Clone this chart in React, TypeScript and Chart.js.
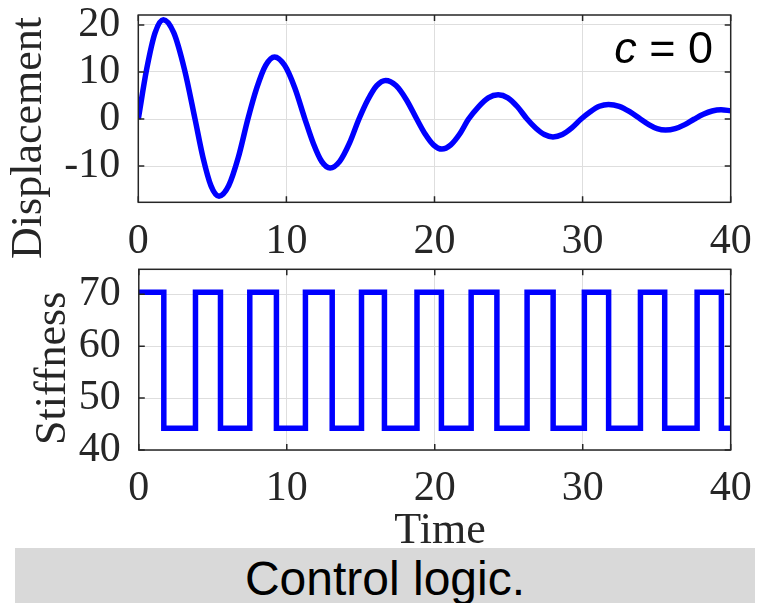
import React, { useEffect, useRef } from "react";
import { Chart, registerables } from "chart.js";
Chart.register(...registerables);

// ---- data ----
const timeTicks = [0, 10, 20, 30, 40];
const dispTicks = [-10, 0, 10, 20];
const stiffTicks = [40, 50, 60, 70];

const dispTime = [
  0, 0.56, 1.13, 1.69,
  2.4, 3.12, 3.83,
  4.37, 4.91, 5.45,
  6.1, 6.75, 7.4,
  8.0, 8.6, 9.2,
  9.88, 10.57, 11.25,
  11.82, 12.38, 12.95,
  13.6, 14.25, 14.9,
  15.5, 16.1, 16.7,
  17.4, 18.1, 18.8,
  19.37, 19.93, 20.5,
  21.1, 21.7, 22.3,
  22.97, 23.63, 24.3,
  24.95, 25.6, 26.25,
  26.83, 27.42, 28.0,
  28.63, 29.27, 29.9,
  30.52, 31.13, 31.75,
  32.47, 33.18, 33.9,
  34.47, 35.03, 35.6,
  36.25, 36.9, 37.55,
  38.15, 38.75, 39.35,
  40.0,
];
const dispValue = [
  0, 10.5, 18.3, 21.1,
  18.3, 10.5, 0,
  -8.2, -14.2, -16.4,
  -14.2, -8.2, 0,
  6.6, 11.4, 13.2,
  11.4, 6.6, 0,
  -5.2, -9.0, -10.4,
  -9.0, -5.2, 0,
  4.1, 7.1, 8.2,
  7.1, 4.1, 0,
  -3.2, -5.5, -6.4,
  -5.5, -3.2, 0,
  2.6, 4.5, 5.15,
  4.5, 2.6, 0,
  -1.9, -3.3, -3.8,
  -3.3, -1.9, 0,
  1.55, 2.7, 3.1,
  2.7, 1.55, 0,
  -1.2, -2.05, -2.35,
  -2.05, -1.2, 0,
  1.0, 1.7, 1.95,
  1.75,
];

// stiffness: start time of each constant segment and its level
const stiffSwitchTime = [
  0, 1.69, 3.83, 5.52, 7.5, 9.3, 11.26, 13.07, 15.05, 16.6, 18.8,
  20.45, 22.46, 24.2, 26.24, 28.0, 30.11, 31.75, 33.9, 35.54, 37.73, 39.37,
];
const stiffLevel = [
  70.4, 44.2, 70.4, 44.2, 70.4, 44.2, 70.4, 44.2, 70.4, 44.2, 70.4,
  44.2, 70.4, 44.2, 70.4, 44.2, 70.4, 44.2, 70.4, 44.2, 70.4, 44.2,
];
const timeEnd = 40;

// ---- style ----
const AXIS_COLOR = "#262626";
const GRID_COLOR = "#dedede";
const LINE_COLOR = "#0000ff";
const SERIF = "'Liberation Serif', 'Times New Roman', serif";
const SANS = "'Liberation Sans', Arial, sans-serif";
const W = 763;

type Txt = {
  text: string;
  x: number;
  y: number;
  rotate?: boolean;
  font: string;
  align?: CanvasTextAlign;
};

function makeFramePlugin(texts: Txt[], extra?: (ctx: CanvasRenderingContext2D) => void) {
  return {
    id: "frameAndText",
    afterDraw(chart: any) {
      const { ctx, chartArea: a, scales } = chart;
      ctx.save();
      ctx.strokeStyle = AXIS_COLOR;
      ctx.lineWidth = 1.5;
      ctx.strokeRect(a.left, a.top, a.right - a.left, a.bottom - a.top);
      const L = 6;
      ctx.beginPath();
      scales.x.ticks.forEach((t: any) => {
        const px = scales.x.getPixelForValue(t.value);
        ctx.moveTo(px, a.bottom);
        ctx.lineTo(px, a.bottom - L);
        ctx.moveTo(px, a.top);
        ctx.lineTo(px, a.top + L);
      });
      scales.y.ticks.forEach((t: any) => {
        const py = scales.y.getPixelForValue(t.value);
        ctx.moveTo(a.left, py);
        ctx.lineTo(a.left + L, py);
        ctx.moveTo(a.right, py);
        ctx.lineTo(a.right - L, py);
      });
      ctx.stroke();
      ctx.fillStyle = AXIS_COLOR;
      texts.forEach((t) => {
        ctx.save();
        ctx.font = t.font;
        ctx.textAlign = t.align || "center";
        ctx.textBaseline = "alphabetic";
        ctx.translate(t.x, t.y);
        if (t.rotate) ctx.rotate(-Math.PI / 2);
        ctx.fillText(t.text, 0, 0);
        ctx.restore();
      });
      if (extra) extra(ctx);
      ctx.restore();
    },
  };
}

function makeConfig(opts: {
  data: { x: number; y: number }[];
  yMin: number;
  yMax: number;
  yTicks: number[];
  padTop: number;
  xAxisHeight: number;
  yAxisWidth: number;
  smooth: boolean;
  plugin: any;
}) {
  const tickFont = { family: SERIF, size: 42 };
  return {
    type: "line" as const,
    data: {
      datasets: [
        {
          data: opts.data,
          borderColor: LINE_COLOR,
          borderWidth: 5.5,
          pointRadius: 0,
          fill: false,
          tension: 0,
          cubicInterpolationMode: opts.smooth ? ("monotone" as const) : ("default" as const),
          borderJoinStyle: "miter" as const,
        },
      ],
    },
    options: {
      responsive: false,
      animation: false as const,
      layout: { padding: { top: opts.padTop, right: 32.3, left: 0, bottom: 0 } },
      plugins: { legend: { display: false }, tooltip: { enabled: false } },
      scales: {
        x: {
          type: "linear" as const,
          min: 0,
          max: 40,
          afterBuildTicks: (s: any) => {
            s.ticks = timeTicks.map((v) => ({ value: v }));
          },
          afterFit: (s: any) => {
            s.height = opts.xAxisHeight;
            s.paddingLeft = 0;
            s.paddingRight = 0;
            s.paddingTop = 0;
            s.paddingBottom = 0;
          },
          grid: { color: GRID_COLOR, lineWidth: 1, drawTicks: false },
          border: { display: false },
          ticks: {
            font: tickFont,
            color: AXIS_COLOR,
            padding: 14,
            maxRotation: 0,
            minRotation: 0,
            autoSkip: false,
          },
        },
        y: {
          type: "linear" as const,
          min: opts.yMin,
          max: opts.yMax,
          afterBuildTicks: (s: any) => {
            s.ticks = opts.yTicks.map((v) => ({ value: v }));
          },
          afterFit: (s: any) => {
            s.width = opts.yAxisWidth;
            s.paddingLeft = 0;
            s.paddingRight = 0;
            s.paddingTop = 0;
            s.paddingBottom = 0;
          },
          grid: { color: GRID_COLOR, lineWidth: 1, drawTicks: false },
          border: { display: false },
          ticks: { font: tickFont, color: AXIS_COLOR, padding: 18, autoSkip: false },
        },
      },
    },
    plugins: [opts.plugin],
  };
}

function DisplacementChart() {
  const ref = useRef<HTMLCanvasElement>(null);
  useEffect(() => {
    const data = dispTime.map((t, i) => ({ x: t, y: dispValue[i] }));
    const plugin = makeFramePlugin(
      [{ text: "Displacement", x: 40.5, y: 138, rotate: true, font: `44px ${SERIF}` }],
      (ctx) => {
        // annotation "c = 0" with italic c
        ctx.fillStyle = "#000000";
        ctx.textBaseline = "alphabetic";
        ctx.textAlign = "left";
        ctx.font = `45px ${SANS}`;
        const rest = " = 0";
        const wRest = ctx.measureText(rest).width;
        ctx.font = `italic 45px ${SANS}`;
        const wC = ctx.measureText("c").width;
        const right = 713;
        const x0 = right - wRest - wC;
        ctx.fillText("c", x0, 63);
        ctx.font = `45px ${SANS}`;
        ctx.fillText(rest, x0 + wC, 63);
      }
    );
    const chart = new Chart(
      ref.current!,
      makeConfig({
        data,
        yMin: -17.7,
        yMax: 22.1,
        yTicks: dispTicks,
        padTop: 15,
        xAxisHeight: 67.7,
        yAxisWidth: 138.3,
        smooth: true,
        plugin,
      }) as any
    );
    return () => chart.destroy();
  }, []);
  return (
    <canvas
      ref={ref}
      width={W}
      height={270}
      style={{ position: "absolute", left: 0, top: 0, width: W, height: 270 }}
    />
  );
}

function StiffnessChart() {
  const ref = useRef<HTMLCanvasElement>(null);
  useEffect(() => {
    const data: { x: number; y: number }[] = [];
    stiffSwitchTime.forEach((t, i) => {
      const tEnd = i + 1 < stiffSwitchTime.length ? stiffSwitchTime[i + 1] : timeEnd;
      data.push({ x: t, y: stiffLevel[i] });
      data.push({ x: tEnd, y: stiffLevel[i] });
    });
    const top = 255;
    const plugin = makeFramePlugin([
      { text: "Stiffness", x: 65, y: 368.3 - top, rotate: true, font: `44px ${SERIF}` },
      { text: "Time", x: 440, y: 543 - top, font: `44px ${SERIF}` },
    ]);
    const chart = new Chart(
      ref.current!,
      makeConfig({
        data,
        yMin: 40,
        yMax: 74.8,
        yTicks: stiffTicks,
        padTop: 269.3 - top,
        xAxisHeight: 293 - (450 - top),
        yAxisWidth: 138.8,
        smooth: false,
        plugin,
      }) as any
    );
    return () => chart.destroy();
  }, []);
  return (
    <canvas
      ref={ref}
      width={W}
      height={293}
      style={{ position: "absolute", left: 0, top: 255, width: W, height: 293 }}
    />
  );
}

export default function App() {
  return (
    <div
      style={{
        position: "fixed",
        left: 0,
        top: 0,
        width: W,
        height: 603,
        background: "#ffffff",
        overflow: "hidden",
      }}
    >
      <DisplacementChart />
      <StiffnessChart />
      <div
        style={{
          position: "absolute",
          left: 15,
          top: 548,
          width: 740,
          height: 52,
          paddingTop: 3,
          background: "#d9d9d9",
          fontFamily: SANS,
          fontSize: 48,
          lineHeight: "55px",
          textAlign: "center",
          color: "#000000",
          overflow: "hidden",
          whiteSpace: "nowrap",
        }}
      >
        Control logic.
      </div>
    </div>
  );
}
